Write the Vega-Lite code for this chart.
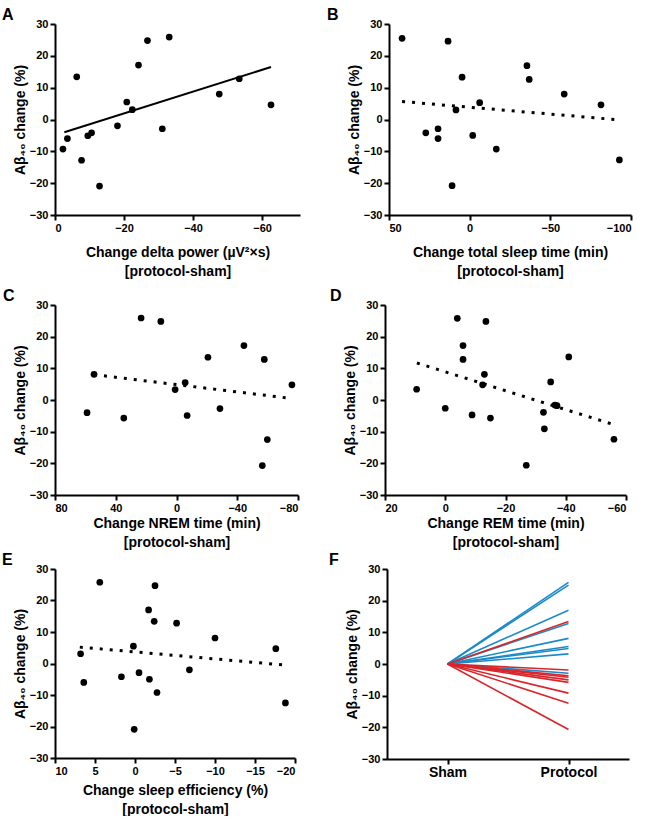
{
  "$schema": "https://vega.github.io/schema/vega-lite/v6.json",
  "padding": {"left": 2, "top": 7, "right": 5, "bottom": 0},
  "background": "white",
  "config": {
    "view": {"stroke": null},
    "font": "Liberation Sans",
    "axis": {
      "grid": false,
      "domainColor": "black",
      "domainWidth": 2,
      "tickColor": "black",
      "tickWidth": 2,
      "tickSize": 5,
      "labelOverlap": false,
      "labelFont": "Liberation Sans",
      "labelFontWeight": "bold",
      "labelFontSize": 11,
      "labelColor": "black",
      "labelPadding": 2,
      "titleFont": "Liberation Sans",
      "titleFontWeight": "bold",
      "titleFontSize": 14,
      "titleColor": "black"
    },
    "title": {"font": "Liberation Sans", "fontSize": 16, "fontWeight": "bold", "color": "black", "anchor": "start", "frame": "group", "offset": -5}
  },
  "datasets": {
    "A": [
      {"x": -2.3, "y": -9.3}, {"x": -3.6, "y": -6.0}, {"x": -6.3, "y": 13.4}, {"x": -7.7, "y": -12.8},
      {"x": -9.5, "y": -5.1}, {"x": -10.6, "y": -4.2}, {"x": -12.9, "y": -20.9}, {"x": -18.1, "y": -2.0},
      {"x": -20.8, "y": 5.5}, {"x": -22.4, "y": 3.1}, {"x": -24.2, "y": 17.1}, {"x": -26.8, "y": 24.8},
      {"x": -31.1, "y": -2.9}, {"x": -33.1, "y": 25.9}, {"x": -47.6, "y": 8.0}, {"x": -53.4, "y": 12.8},
      {"x": -62.6, "y": 4.6}
    ],
    "Afit": [{"x": -2.7, "y": -4.0}, {"x": -62.6, "y": 16.5}],
    "B": [
      {"x": 41.9, "y": 25.5}, {"x": 13.4, "y": 24.6}, {"x": 4.7, "y": 13.3}, {"x": 8.5, "y": 3.0},
      {"x": -6.2, "y": 5.3}, {"x": -1.9, "y": -5.0}, {"x": 27.2, "y": -4.2}, {"x": 19.6, "y": -2.9},
      {"x": 19.6, "y": -6.0}, {"x": 10.9, "y": -20.8}, {"x": -16.5, "y": -9.3}, {"x": -35.5, "y": 16.9},
      {"x": -36.9, "y": 12.6}, {"x": -58.6, "y": 8.0}, {"x": -81.4, "y": 4.6}, {"x": -92.8, "y": -12.7}
    ],
    "Bfit": [{"x": 41.9, "y": 5.65}, {"x": -92.2, "y": -0.1}],
    "C": [
      {"x": 23.3, "y": 25.9}, {"x": 10.3, "y": 24.8}, {"x": 58.9, "y": -4.0}, {"x": 54.3, "y": 8.1},
      {"x": 34.7, "y": -5.7}, {"x": 0.9, "y": 3.3}, {"x": -5.7, "y": 5.5}, {"x": -7.0, "y": -4.9},
      {"x": -20.7, "y": 13.5}, {"x": -28.6, "y": -2.7}, {"x": -44.4, "y": 17.2}, {"x": -57.8, "y": 12.8},
      {"x": -59.8, "y": -12.5}, {"x": -56.5, "y": -20.7}, {"x": -76.0, "y": 4.8}
    ],
    "Cfit": [{"x": 54.3, "y": 8.0}, {"x": -75.6, "y": 0.5}],
    "D": [
      {"x": -4.0, "y": 25.8}, {"x": -13.5, "y": 24.8}, {"x": -5.9, "y": 17.2}, {"x": -5.9, "y": 12.8},
      {"x": -13.0, "y": 8.1}, {"x": -12.4, "y": 4.8}, {"x": 9.5, "y": 3.4}, {"x": 0.0, "y": -2.6},
      {"x": -8.9, "y": -4.7}, {"x": -15.0, "y": -5.7}, {"x": -26.9, "y": -20.6}, {"x": -32.6, "y": -3.9},
      {"x": -32.9, "y": -9.1}, {"x": -35.0, "y": 5.7}, {"x": -36.4, "y": -1.6}, {"x": -37.1, "y": -1.8},
      {"x": -41.0, "y": 13.6}, {"x": -56.0, "y": -12.4}
    ],
    "Dfit": [{"x": 9.4, "y": 11.7}, {"x": -56.0, "y": -7.8}],
    "E": [
      {"x": 4.4, "y": 25.8}, {"x": -2.5, "y": 24.7}, {"x": -1.7, "y": 17.0}, {"x": -2.4, "y": 13.4},
      {"x": -5.2, "y": 12.8}, {"x": -10.0, "y": 8.1}, {"x": 0.2, "y": 5.5}, {"x": -17.6, "y": 4.7},
      {"x": 6.8, "y": 3.1}, {"x": -6.8, "y": -2.0}, {"x": -0.5, "y": -2.9}, {"x": 1.7, "y": -4.2},
      {"x": -1.8, "y": -5.0}, {"x": 6.4, "y": -6.0}, {"x": -2.75, "y": -9.2}, {"x": 0.1, "y": -20.9},
      {"x": -18.8, "y": -12.5}
    ],
    "Efit": [{"x": 6.9, "y": 5.2}, {"x": -18.75, "y": -0.5}],
    "F": [
      {"id": 1, "grp": "blue", "cond": "Sham", "v": 0}, {"id": 1, "grp": "blue", "cond": "Protocol", "v": 25.8},
      {"id": 2, "grp": "blue", "cond": "Sham", "v": 0}, {"id": 2, "grp": "blue", "cond": "Protocol", "v": 24.9},
      {"id": 3, "grp": "blue", "cond": "Sham", "v": 0}, {"id": 3, "grp": "blue", "cond": "Protocol", "v": 17.0},
      {"id": 4, "grp": "blue", "cond": "Sham", "v": 0}, {"id": 4, "grp": "blue", "cond": "Protocol", "v": 12.8},
      {"id": 5, "grp": "blue", "cond": "Sham", "v": 0}, {"id": 5, "grp": "blue", "cond": "Protocol", "v": 8.1},
      {"id": 6, "grp": "blue", "cond": "Sham", "v": 0}, {"id": 6, "grp": "blue", "cond": "Protocol", "v": 5.5},
      {"id": 7, "grp": "blue", "cond": "Sham", "v": 0}, {"id": 7, "grp": "blue", "cond": "Protocol", "v": 4.9},
      {"id": 8, "grp": "blue", "cond": "Sham", "v": 0}, {"id": 8, "grp": "blue", "cond": "Protocol", "v": 3.2},
      {"id": 9, "grp": "blue", "cond": "Sham", "v": 0}, {"id": 9, "grp": "blue", "cond": "Protocol", "v": -2.9},
      {"id": 10, "grp": "red", "cond": "Sham", "v": 0}, {"id": 10, "grp": "red", "cond": "Protocol", "v": 13.4},
      {"id": 11, "grp": "red", "cond": "Sham", "v": 0}, {"id": 11, "grp": "red", "cond": "Protocol", "v": -1.9},
      {"id": 12, "grp": "red", "cond": "Sham", "v": 0}, {"id": 12, "grp": "red", "cond": "Protocol", "v": -3.7},
      {"id": 13, "grp": "red", "cond": "Sham", "v": 0}, {"id": 13, "grp": "red", "cond": "Protocol", "v": -4.2},
      {"id": 14, "grp": "red", "cond": "Sham", "v": 0}, {"id": 14, "grp": "red", "cond": "Protocol", "v": -5.0},
      {"id": 15, "grp": "red", "cond": "Sham", "v": 0}, {"id": 15, "grp": "red", "cond": "Protocol", "v": -5.8},
      {"id": 16, "grp": "red", "cond": "Sham", "v": 0}, {"id": 16, "grp": "red", "cond": "Protocol", "v": -9.2},
      {"id": 17, "grp": "red", "cond": "Sham", "v": 0}, {"id": 17, "grp": "red", "cond": "Protocol", "v": -12.4},
      {"id": 18, "grp": "red", "cond": "Sham", "v": 0}, {"id": 18, "grp": "red", "cond": "Protocol", "v": -20.7}
    ]
  },
  "vconcat": [
    {
      "hconcat": [
        {
          "width": 245, "height": 191,
          "title": {"text": "A", "dx": -53},
          "layer": [
            {"mark": {"type": "rule", "strokeDash": [2, 2], "strokeWidth": 1, "color": "black"},
             "encoding": {"y": {"datum": 0, "type": "quantitative", "scale": {"domain": [-30, 30]}, "axis": {"values": [-30, -20, -10, 0, 10, 20, 30], "labelOverlap": false, "title": "Aβ₄₀ change (%)", "titlePadding": 2}}}},
            {"data": {"name": "Afit"}, "mark": {"type": "line", "color": "black", "strokeWidth": 2},
             "encoding": {
               "x": {"field": "x", "type": "quantitative", "scale": {"domain": [0, -71], "nice": false}, "axis": {"values": [0, -20, -40, -60], "labelOverlap": false, "title": ["Change delta power (µV²×s)", "[protocol-sham]"], "titlePadding": 12, "titleLineHeight": 19}},
               "y": {"field": "y", "type": "quantitative", "scale": {"domain": [-30, 30]}, "axis": {"values": [-30, -20, -10, 0, 10, 20, 30], "labelOverlap": false, "title": "Aβ₄₀ change (%)", "titlePadding": 2}}}},
            {"data": {"name": "A"}, "mark": {"type": "circle", "size": 45, "opacity": 1, "color": "black"},
             "encoding": {
               "x": {"field": "x", "type": "quantitative", "scale": {"domain": [0, -71], "nice": false}, "axis": {"values": [0, -20, -40, -60], "labelOverlap": false, "title": ["Change delta power (µV²×s)", "[protocol-sham]"], "titlePadding": 12, "titleLineHeight": 19}},
               "y": {"field": "y", "type": "quantitative", "scale": {"domain": [-30, 30]}, "axis": {"values": [-30, -20, -10, 0, 10, 20, 30], "labelOverlap": false, "title": "Aβ₄₀ change (%)", "titlePadding": 2}}
             }}
          ]
        },
        {
          "width": 242, "height": 191,
          "title": {"text": "B", "dx": -62},
          "layer": [
            {"mark": {"type": "rule", "strokeDash": [2, 2], "strokeWidth": 1, "color": "black"},
             "encoding": {"y": {"datum": 0, "type": "quantitative", "scale": {"domain": [-30, 30]}, "axis": {"values": [-30, -20, -10, 0, 10, 20, 30], "labelOverlap": false, "title": "Aβ₄₀ change (%)", "titlePadding": 2}}}},
            {"data": {"name": "Bfit"}, "mark": {"type": "line", "color": "black", "strokeWidth": 3, "strokeDash": [3, 7]},
             "encoding": {
               "x": {"field": "x", "type": "quantitative", "scale": {"domain": [50, -100], "nice": false}, "axis": {"values": [50, 0, -50, -100], "labelOverlap": false, "title": ["Change total sleep time (min)", "[protocol-sham]"], "titlePadding": 12, "titleLineHeight": 19}},
               "y": {"field": "y", "type": "quantitative", "scale": {"domain": [-30, 30]}, "axis": {"values": [-30, -20, -10, 0, 10, 20, 30], "labelOverlap": false, "title": "Aβ₄₀ change (%)", "titlePadding": 2}}}},
            {"data": {"name": "B"}, "mark": {"type": "circle", "size": 45, "opacity": 1, "color": "black"},
             "encoding": {
               "x": {"field": "x", "type": "quantitative", "scale": {"domain": [50, -100], "nice": false}, "axis": {"values": [50, 0, -50, -100], "labelOverlap": false, "title": ["Change total sleep time (min)", "[protocol-sham]"], "titlePadding": 12, "titleLineHeight": 19}},
               "y": {"field": "y", "type": "quantitative", "scale": {"domain": [-30, 30]}, "axis": {"values": [-30, -20, -10, 0, 10, 20, 30], "labelOverlap": false, "title": "Aβ₄₀ change (%)", "titlePadding": 2}}
             }}
          ]
        }
      ],
      "spacing": 27
    },
    {
      "vconcat": [
        {
          "hconcat": [
            {
              "width": 243, "height": 190,
              "title": {"text": "C", "dx": -52},
              "layer": [
                {"mark": {"type": "rule", "strokeDash": [2, 2], "strokeWidth": 1, "color": "black"},
                 "encoding": {"y": {"datum": 0, "type": "quantitative", "scale": {"domain": [-30, 30]}, "axis": {"values": [-30, -20, -10, 0, 10, 20, 30], "labelOverlap": false, "title": "Aβ₄₀ change (%)", "titlePadding": 2}}}},
                {"data": {"name": "Cfit"}, "mark": {"type": "line", "color": "black", "strokeWidth": 3, "strokeDash": [3, 7]},
                 "encoding": {
                   "x": {"field": "x", "type": "quantitative", "scale": {"domain": [80, -80], "nice": false}, "axis": {"values": [80, 40, 0, -40, -80], "labelOverlap": false, "title": ["Change NREM time (min)", "[protocol-sham]"], "titlePadding": 3, "titleLineHeight": 19}},
                   "y": {"field": "y", "type": "quantitative", "scale": {"domain": [-30, 30]}, "axis": {"values": [-30, -20, -10, 0, 10, 20, 30], "labelOverlap": false, "title": "Aβ₄₀ change (%)", "titlePadding": 2}}}},
                {"data": {"name": "C"}, "mark": {"type": "circle", "size": 45, "opacity": 1, "color": "black"},
                 "encoding": {
                   "x": {"field": "x", "type": "quantitative", "scale": {"domain": [80, -80], "nice": false}, "axis": {"values": [80, 40, 0, -40, -80], "labelOverlap": false, "title": ["Change NREM time (min)", "[protocol-sham]"], "titlePadding": 3, "titleLineHeight": 19}},
                   "y": {"field": "y", "type": "quantitative", "scale": {"domain": [-30, 30]}, "axis": {"values": [-30, -20, -10, 0, 10, 20, 30], "labelOverlap": false, "title": "Aβ₄₀ change (%)", "titlePadding": 2}}
                 }}
              ]
            },
            {
              "width": 241, "height": 190,
              "title": {"text": "D", "dx": -55},
              "layer": [
                {"mark": {"type": "rule", "strokeDash": [2, 2], "strokeWidth": 1, "color": "black"},
                 "encoding": {"y": {"datum": 0, "type": "quantitative", "scale": {"domain": [-30, 30]}, "axis": {"values": [-30, -20, -10, 0, 10, 20, 30], "labelOverlap": false, "title": "Aβ₄₀ change (%)", "titlePadding": 2}}}},
                {"data": {"name": "Dfit"}, "mark": {"type": "line", "color": "black", "strokeWidth": 3, "strokeDash": [3, 7]},
                 "encoding": {
                   "x": {"field": "x", "type": "quantitative", "scale": {"domain": [20, -60], "nice": false}, "axis": {"values": [20, 0, -20, -40, -60], "labelOverlap": false, "title": ["Change REM time (min)", "[protocol-sham]"], "titlePadding": 3, "titleLineHeight": 19}},
                   "y": {"field": "y", "type": "quantitative", "scale": {"domain": [-30, 30]}, "axis": {"values": [-30, -20, -10, 0, 10, 20, 30], "labelOverlap": false, "title": "Aβ₄₀ change (%)", "titlePadding": 2}}}},
                {"data": {"name": "D"}, "mark": {"type": "circle", "size": 45, "opacity": 1, "color": "black"},
                 "encoding": {
                   "x": {"field": "x", "type": "quantitative", "scale": {"domain": [20, -60], "nice": false}, "axis": {"values": [20, 0, -20, -40, -60], "labelOverlap": false, "title": ["Change REM time (min)", "[protocol-sham]"], "titlePadding": 3, "titleLineHeight": 19}},
                   "y": {"field": "y", "type": "quantitative", "scale": {"domain": [-30, 30]}, "axis": {"values": [-30, -20, -10, 0, 10, 20, 30], "labelOverlap": false, "title": "Aβ₄₀ change (%)", "titlePadding": 2}}
                 }}
              ]
            }
          ],
          "spacing": 31
        },
        {
          "hconcat": [
            {
              "width": 240, "height": 189,
              "title": {"text": "E", "dx": -53},
              "layer": [
                {"mark": {"type": "rule", "strokeDash": [2, 2], "strokeWidth": 1, "color": "black"},
                 "encoding": {"y": {"datum": 0, "type": "quantitative", "scale": {"domain": [-30, 30]}, "axis": {"values": [-30, -20, -10, 0, 10, 20, 30], "labelOverlap": false, "title": "Aβ₄₀ change (%)", "titlePadding": 2}}}},
                {"data": {"name": "Efit"}, "mark": {"type": "line", "color": "black", "strokeWidth": 3, "strokeDash": [3, 7]},
                 "encoding": {
                   "x": {"field": "x", "type": "quantitative", "scale": {"domain": [10, -20], "nice": false}, "axis": {"values": [10, 5, 0, -5, -10, -15, -20], "labelOverlap": false, "title": ["Change sleep efficiency (%)", "[protocol-sham]"], "titlePadding": 7, "titleLineHeight": 19}},
                   "y": {"field": "y", "type": "quantitative", "scale": {"domain": [-30, 30]}, "axis": {"values": [-30, -20, -10, 0, 10, 20, 30], "labelOverlap": false, "title": "Aβ₄₀ change (%)", "titlePadding": 2}}}},
                {"data": {"name": "E"}, "mark": {"type": "circle", "size": 45, "opacity": 1, "color": "black"},
                 "encoding": {
                   "x": {"field": "x", "type": "quantitative", "scale": {"domain": [10, -20], "nice": false}, "axis": {"values": [10, 5, 0, -5, -10, -15, -20], "labelOverlap": false, "title": ["Change sleep efficiency (%)", "[protocol-sham]"], "titlePadding": 7, "titleLineHeight": 19}},
                   "y": {"field": "y", "type": "quantitative", "scale": {"domain": [-30, 30]}, "axis": {"values": [-30, -20, -10, 0, 10, 20, 30], "labelOverlap": false, "title": "Aβ₄₀ change (%)", "titlePadding": 2}}
                 }}
              ]
            },
            {
              "width": 242, "height": 190,
              "title": {"text": "F", "dx": -58},
              "layer": [
                {"mark": {"type": "rule", "strokeDash": [2, 2], "strokeWidth": 1, "color": "black"},
                 "encoding": {"y": {"datum": 0, "type": "quantitative", "scale": {"domain": [-30, 30]}, "axis": {"values": [-30, -20, -10, 0, 10, 20, 30], "labelOverlap": false, "title": "Aβ₄₀ change (%)", "titlePadding": 2}}}},
                {"data": {"name": "F"}, "mark": {"type": "line", "strokeWidth": 1.6},
                 "encoding": {
                   "x": {"field": "cond", "type": "nominal", "scale": {"type": "point", "domain": ["Sham", "Protocol"], "padding": 0.5}, "axis": {"title": null, "labelAngle": 0, "labelFontSize": 14, "labelPadding": 1}},
                   "y": {"field": "v", "type": "quantitative", "scale": {"domain": [-30, 30]}, "axis": {"values": [-30, -20, -10, 0, 10, 20, 30], "labelOverlap": false, "title": "Aβ₄₀ change (%)", "titlePadding": 2}},
                   "detail": {"field": "id"},
                   "color": {"field": "grp", "type": "nominal", "scale": {"domain": ["blue", "red"], "range": ["#1b8bc8", "#d8262b"]}, "legend": null}
                 }}
              ]
            }
          ],
          "spacing": 33
        }
      ],
      "spacing": 3
    }
  ],
  "spacing": 10
}
